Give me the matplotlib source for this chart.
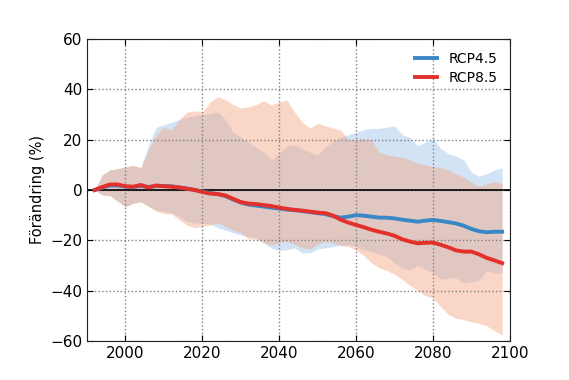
import numpy as np
import matplotlib
matplotlib.use('Agg')
import matplotlib.pyplot as plt

years = np.arange(1992, 2099, 2)

rcp45_mean = [0, 1.0, 1.8, 1.8, 1.3, 1.2, 1.6, 1.2, 1.6, 1.6, 1.5, 1.0, 0.6, 0.0,
              -0.6, -1.2, -1.6, -2.4, -3.8, -5.0, -5.8, -6.2, -6.6, -7.0, -7.4, -7.8,
              -8.0, -8.4, -8.8, -9.2, -9.6, -10.4, -11.0, -10.6, -10.0, -10.2, -10.6,
              -11.0, -11.0, -11.3, -11.8, -12.2, -12.6, -12.2, -11.9, -12.3, -12.8,
              -13.3, -14.2, -15.5, -16.4, -16.8, -16.6, -16.6]
rcp85_mean = [0, 1.2, 2.2, 2.2, 1.5, 1.3, 2.0, 1.0, 1.8, 1.5, 1.3, 1.0, 0.5, 0.0,
              -0.8, -1.4, -1.6, -2.2, -3.5, -4.8, -5.4, -5.6, -6.0, -6.4, -7.0, -7.5,
              -7.9, -8.2, -8.6, -9.0, -9.2, -10.2, -11.8, -13.0, -13.9, -14.8, -15.8,
              -16.6, -17.3, -18.2, -19.6, -20.5, -21.2, -21.0, -20.9, -21.8, -22.8,
              -24.0, -24.5, -24.5, -25.6, -27.0, -28.0, -29.1]

rcp45_upper = [0, 6, 8, 8.5, 9, 9.5, 9, 18, 25, 26, 27, 28, 29, 29.5, 30, 30.5, 31,
               28, 23, 21, 19, 17, 15, 12, 14.6, 17.5, 18, 16.5, 15, 14, 17, 19.5, 21,
               22, 23, 24, 24.5, 24.5, 25, 25.5, 22, 21, 17.5, 19, 20.5, 16.5, 14.5,
               13.5, 12, 7, 5.5, 6.5, 8, 8.8]
rcp45_lower = [0, -2, -2.3, -4.5, -6.6, -5.3, -4.6, -6.5, -8, -8.5, -9, -10.5, -12.5,
               -13.2, -13.2, -13.5, -15, -16, -17, -17.9, -18.5, -19, -21, -23.2, -24,
               -23.8, -23, -25, -25, -23.5, -23, -22.5, -22, -21.9, -22.5, -23.8, -24.5,
               -25.5, -26.5, -29, -31, -31.8, -30, -31.5, -33, -35.5, -35, -35, -37,
               -36.5, -35.8, -32, -33, -33]

rcp85_upper = [0, 6, 8, 8.5, 9.3, 10, 8.8, 16, 22, 25, 24, 28, 31, 31.5, 31, 35, 37,
               36, 34, 32.6, 33, 34, 35.5, 33.8, 35, 35.8, 31, 27, 24.6, 26.6, 25.5,
               24.6, 23.8, 20, 20, 20.5, 20, 15, 14, 13.5, 13, 12, 10.6, 10, 9.3, 9, 8,
               6.5, 5, 3, 1.3, 2.5, 3.3, 2.6]
rcp85_lower = [0, -2, -2.3, -4.5, -6.6, -5.3, -4.8, -6.5, -8.5, -9.3, -9.5, -11.9, -14,
               -15, -14.5, -14, -13, -14.5, -16, -17, -19.5, -19.5, -21, -22, -21,
               -20.5, -21.5, -23, -23.5, -21.5, -20.5, -21, -22, -22.5, -24, -26, -29,
               -31, -32, -33.5, -35.5, -38, -40, -42, -43, -46.5, -49.5, -51, -51.5,
               -52.5, -53, -54, -56, -57.6]

fig = plt.figure(figsize=(5.69, 3.8), dpi=100)
ax = fig.add_axes([0.153, 0.103, 0.743, 0.794])

# spridning mellan modellerna
ax.fill_between(years, rcp45_lower, rcp45_upper, color='#a6c8ec', alpha=0.5, lw=0)
ax.fill_between(years, rcp85_lower, rcp85_upper, color='#f4a582', alpha=0.45, lw=0)
ax.axhline(0, color='black', lw=1.2)
ax.plot(years, rcp45_mean, color='#3a87c8', lw=2.8, label='RCP4.5')
ax.plot(years, rcp85_mean, color='#e3302b', lw=2.8, label='RCP8.5')

ax.set_xlim(1990, 2100)
ax.set_ylim(-60, 60)
ax.set_xticks([2000, 2020, 2040, 2060, 2080, 2100])
ax.set_yticks([-60, -40, -20, 0, 20, 40, 60])
ax.grid(True, linestyle=':', color='#808080', lw=1.0)
ax.tick_params(direction='in', top=True, right=True, labelsize=11, length=4)
for s in ax.spines.values():
    s.set_color('#222222')
ax.set_ylabel('Förändring (%)', fontsize=10.5)
ax.legend(loc='upper right', frameon=False, fontsize=10, handlelength=1.6,
          labelspacing=0.4)

fig.savefig('out.png', dpi=100)
